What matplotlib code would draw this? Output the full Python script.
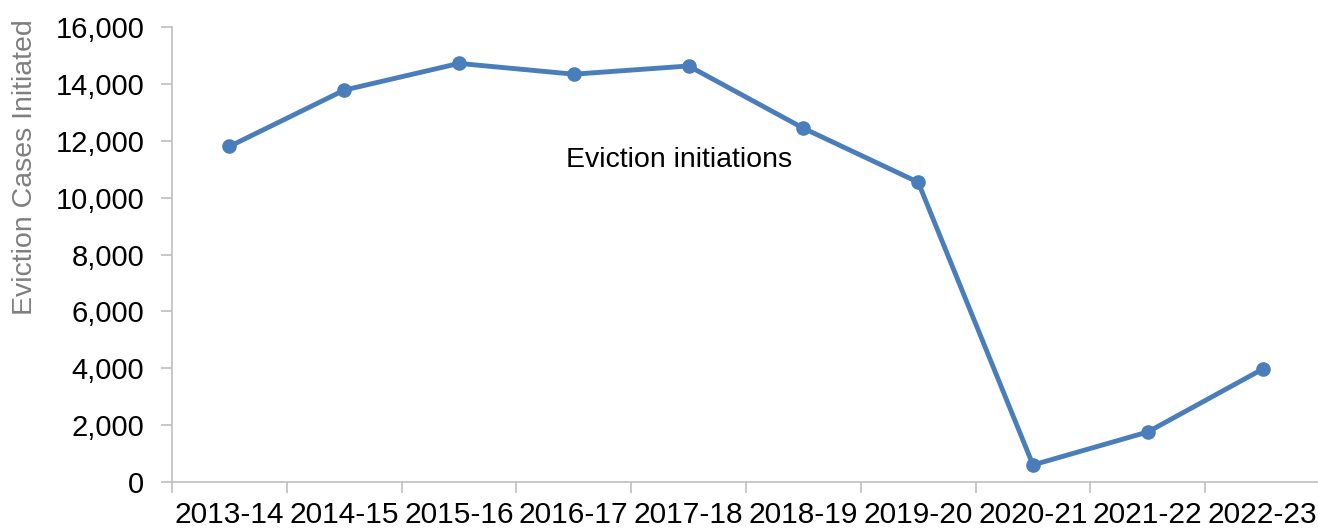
import matplotlib.pyplot as plt
from matplotlib.ticker import FuncFormatter

plt.rcParams['font.family'] = ['Liberation Sans', 'DejaVu Sans']

# Datos
years = ["2013-14", "2014-15", "2015-16", "2016-17", "2017-18",
         "2018-19", "2019-20", "2020-21", "2021-22", "2022-23"]
cases = [11800, 13780, 14720, 14340, 14630, 12440, 10540, 600, 1760, 3970]

W, H = 1318, 528
fig = plt.figure(figsize=(W / 100, H / 100), dpi=100)
ax = fig.add_axes([172 / W, (H - 482) / H, (1320 - 172) / W, (482 - 27) / H])

x = list(range(len(years)))
ax.plot(x, cases, color="#4a7ebb", linewidth=3.5, marker="o", markersize=9.5)

ax.set_xlim(-0.5, len(years) - 0.5)
ax.set_ylim(0, 16000)
ax.set_yticks(range(0, 16001, 2000))
ax.yaxis.set_major_formatter(FuncFormatter(lambda v, p: f"{int(v):,}"))

ax.set_xticks(x)
ax.set_xticklabels(years)
ax.set_xticks([i - 0.5 for i in range(len(years) + 1)], minor=True)
ax.tick_params(axis="x", which="major", length=0, labelsize=21.5, pad=14)
ax.tick_params(axis="x", which="minor", length=8, color="#bfbfbf", width=1.2)
ax.tick_params(axis="y", length=8, color="#bfbfbf", width=1.2, labelsize=21, pad=12)

for s in ["top", "right"]:
    ax.spines[s].set_visible(False)
for s in ["left", "bottom"]:
    ax.spines[s].set_color("#bfbfbf")
    ax.spines[s].set_linewidth(1.2)

ax.set_ylabel("Eviction Cases Initiated", fontsize=20.5, color="#7f7f7f")
ax.yaxis.set_label_coords(-0.117, 0.692)

ax.text(3.92, 11320, "Eviction initiations", fontsize=20.5, ha="center", va="center")

fig.savefig("out.png", dpi=100)
